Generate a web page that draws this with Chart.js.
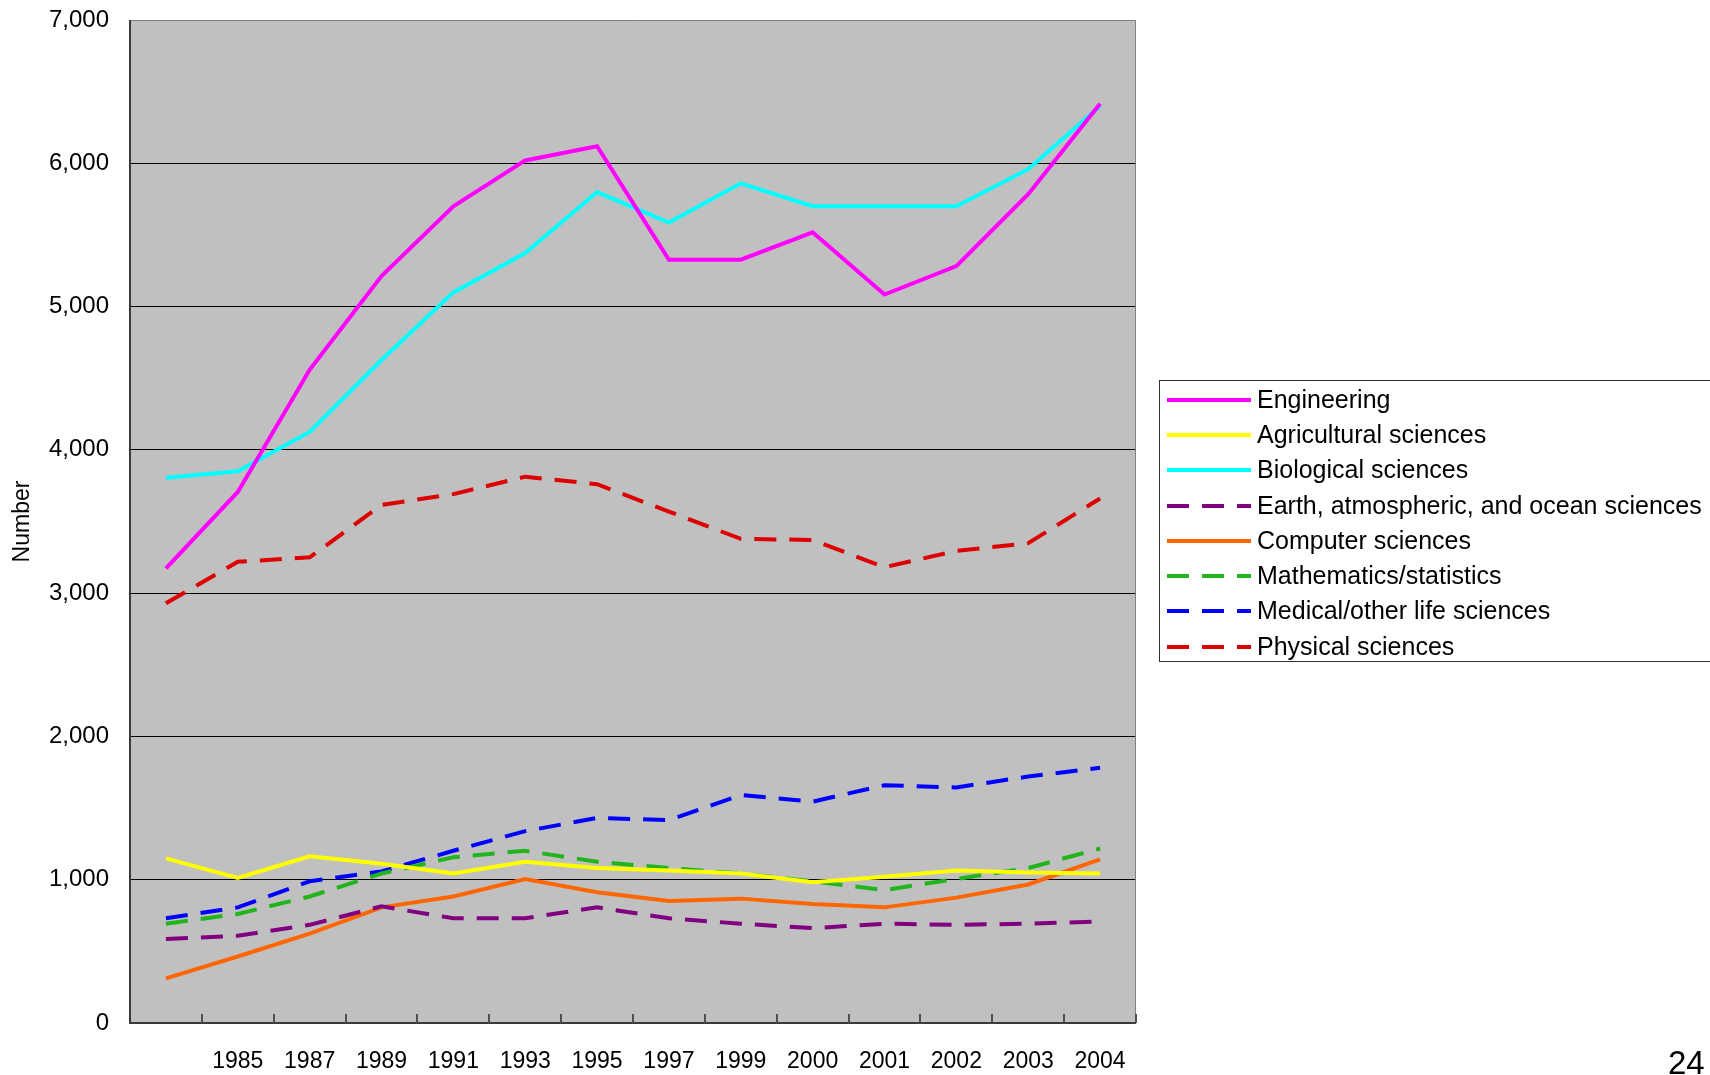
<!DOCTYPE html>
<html>
<head>
<meta charset="utf-8">
<script src="https://cdn.jsdelivr.net/npm/chart.js@4.4.1/dist/chart.umd.min.js"></script>
<style>
  html, body { margin: 0; padding: 0; background: #ffffff; overflow: hidden; }
  #wrap { position: relative; width: 1710px; height: 1075px; }
</style>
</head>
<body>
<div id="wrap"><canvas id="c"></canvas></div>
<script>
// ---- data ----
const categories = ['', '1985', '1987', '1989', '1991', '1993', '1995', '1997', '1999', '2000', '2001', '2002', '2003', '2004'];
const yTicks = [0, 1000, 2000, 3000, 4000, 5000, 6000, 7000];

const engineering   = [3173, 3706, 4559, 5213, 5700, 6020, 6119, 5327, 5327, 5518, 5084, 5282, 5784, 6416];
const agricultural  = [1149, 1012, 1164, 1111, 1043, 1126, 1081, 1065, 1043,  982, 1020, 1065, 1050, 1043];
const biological    = [3805, 3851, 4125, 4627, 5099, 5373, 5799, 5586, 5860, 5700, 5700, 5700, 5959, 6400];
const earth         = [ 586,  609,  685,  814,  731,  731,  807,  731,  693,  662,  693,  685,  693,  708];
const computer      = [ 312,  464,  624,  807,  883, 1005,  913,  852,  868,  830,  807,  875,  967, 1142];
const mathematics   = [ 693,  761,  883, 1043, 1157, 1202, 1126, 1081, 1043,  989,  928, 1005, 1081, 1218];
const medical       = [ 731,  807,  989, 1058, 1202, 1339, 1431, 1416, 1591, 1545, 1659, 1644, 1720, 1781];
const physical      = [2930, 3219, 3250, 3615, 3691, 3813, 3760, 3569, 3379, 3371, 3181, 3295, 3349, 3661];

const seriesNames = ['Engineering', 'Agricultural sciences', 'Biological sciences',
  'Earth, atmospheric, and ocean sciences', 'Computer sciences', 'Mathematics/statistics',
  'Medical/other life sciences', 'Physical sciences'];
const seriesValues = [engineering, agricultural, biological, earth, computer, mathematics, medical, physical];
const seriesColors = ['#FF00FF', '#FFFF00', '#00FFFF', '#800080', '#FF6600', '#22B41C', '#0000FF', '#DD0000'];
const seriesDashed = [false, false, false, true, false, true, true, true];
const yTitle = 'Number';
const pageNumber = '24';

// ---- styling ----
const DASH = [22, 13];
const LW = 4;

const datasets = seriesNames.map((name, i) => ({
  label: name,
  data: seriesValues[i],
  borderColor: seriesColors[i],
  backgroundColor: seriesColors[i],
  borderWidth: LW,
  borderDash: seriesDashed[i] ? DASH : [],
  pointRadius: 0,
  pointHoverRadius: 0,
  tension: 0,
  fill: false
}));

const plotDecor = {
  id: 'plotDecor',
  beforeDraw(chart) {
    const {ctx, chartArea: a} = chart;
    ctx.save();
    ctx.fillStyle = '#C0C0C0';
    ctx.fillRect(a.left, a.top, a.right - a.left, a.bottom - a.top);
    ctx.restore();
  },
  afterDraw(chart) {
    const {ctx, chartArea: a} = chart;
    const xs = chart.scales.x;
    ctx.save();
    // top / right border
    ctx.strokeStyle = '#808080';
    ctx.lineWidth = 1;
    ctx.beginPath();
    ctx.moveTo(a.left, a.top + 0.5);
    ctx.lineTo(a.right - 0.5, a.top + 0.5);
    ctx.lineTo(a.right - 0.5, a.bottom);
    ctx.stroke();
    // axes
    ctx.strokeStyle = '#3a3a3a';
    ctx.lineWidth = 2;
    ctx.beginPath();
    ctx.moveTo(a.left, a.top);
    ctx.lineTo(a.left, a.bottom);
    ctx.lineTo(a.right, a.bottom);
    ctx.stroke();
    // inside tick marks at category boundaries
    ctx.strokeStyle = '#505050';
    ctx.lineWidth = 2;
    for (let i = 1; i <= categories.length; i++) {
      const x = Math.round(xs.getPixelForValue(i - 0.5));
      ctx.beginPath();
      ctx.moveTo(x, a.bottom);
      ctx.lineTo(x, a.bottom - 9);
      ctx.stroke();
    }
    // legend
    const L = {left: 1159, top: 380, right: 1712, bottom: 661, firstY: 400, step: 32.3 * 1710 / 1568, lineX0: 1167, lineX1: 1251, textX: 1257};
    ctx.fillStyle = '#ffffff';
    ctx.fillRect(L.left, L.top, L.right - L.left, L.bottom - L.top);
    ctx.strokeStyle = '#303030';
    ctx.lineWidth = 1;
    ctx.strokeRect(L.left + 0.5, L.top + 0.5, L.right - L.left, L.bottom - L.top);
    chart.data.datasets.forEach((ds, i) => {
      const y = Math.round(L.firstY + i * L.step);
      ctx.strokeStyle = ds.borderColor;
      ctx.lineWidth = ds.borderWidth;
      ctx.setLineDash(ds.borderDash || []);
      ctx.beginPath();
      ctx.moveTo(L.lineX0, y);
      ctx.lineTo(L.lineX1, y);
      ctx.stroke();
      ctx.setLineDash([]);
      ctx.fillStyle = '#000000';
      ctx.font = '25px "Liberation Sans", Arial, sans-serif';
      ctx.textAlign = 'left';
      ctx.textBaseline = 'middle';
      ctx.fillText(ds.label, L.textX, y + 1);
    });
    // page number
    ctx.fillStyle = '#000000';
    ctx.font = '33px "Liberation Sans", Arial, sans-serif';
    ctx.textAlign = 'left';
    ctx.textBaseline = 'alphabetic';
    ctx.fillText(pageNumber, 1668, 1074);
    ctx.restore();
  }
};

new Chart(document.getElementById('c'), {
  type: 'line',
  data: { labels: categories, datasets },
  options: {
    responsive: true,
    maintainAspectRatio: false,
    animation: false,
    events: [],
    layout: { padding: { left: 0, right: 574, top: 20, bottom: 0 } },
    plugins: {
      legend: { display: false },
      tooltip: { enabled: false },
      title: { display: false }
    },
    scales: {
      x: {
        type: 'category',
        offset: true,
        grid: { display: false, drawTicks: false },
        border: { display: false },
        ticks: {
          color: '#000000',
          font: { family: '"Liberation Sans", Arial, sans-serif', size: 23 },
          padding: 25,
          maxRotation: 0,
          autoSkip: false
        },
        afterFit(scale) { scale.height = 52; scale.paddingLeft = 0; scale.paddingRight = 0; }
      },
      y: {
        min: 0,
        max: 7000,
        afterBuildTicks(scale) { scale.ticks = yTicks.map(v => ({ value: v })); },
        grid: {
          color: (c) => (c.tick && (c.tick.value === 0 || c.tick.value === 7000)) ? 'rgba(0,0,0,0)' : '#000000',
          lineWidth: 1,
          drawTicks: false
        },
        border: { display: false },
        ticks: {
          color: '#000000',
          font: { family: '"Liberation Sans", Arial, sans-serif', size: 24 },
          padding: 21,
          callback: (v) => Number(v).toLocaleString('en-US')
        },
        title: {
          display: true,
          text: yTitle,
          color: '#000000',
          font: { family: '"Liberation Sans", Arial, sans-serif', size: 23 },
          padding: { top: 9, bottom: 4 }
        },
        afterFit(scale) { scale.width = 130; scale.paddingTop = 0; scale.paddingBottom = 0; }
      }
    }
  },
  plugins: [plotDecor]
});
</script>
</body>
</html>
